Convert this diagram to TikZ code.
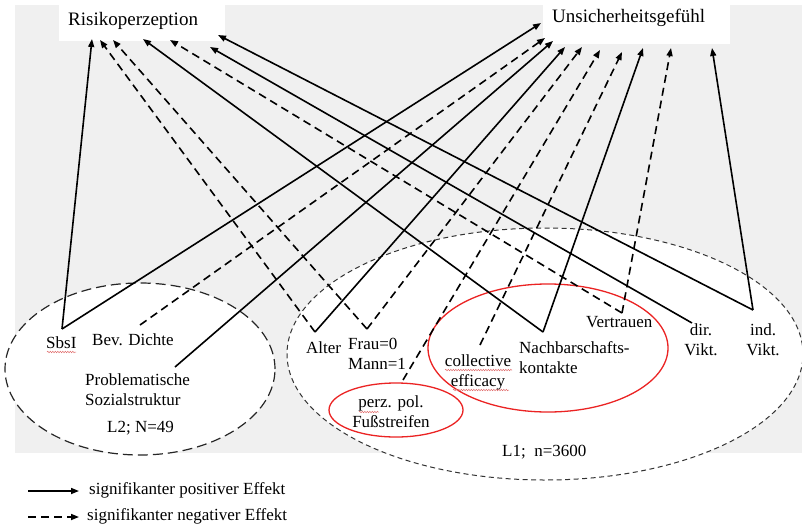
\documentclass[tikz,border=0pt]{standalone}
\usepackage{fontspec}
\setmainfont{Liberation Serif}
\usetikzlibrary{arrows.meta,shapes.geometric,decorations.pathmorphing}
\definecolor{bggray}{RGB}{240,240,240}
\definecolor{redline}{RGB}{235,35,35}
\definecolor{squigred}{RGB}{225,110,110}
\newcommand{\lblfont}{\fontsize{17}{20}\selectfont}
\newcommand{\ttlfont}{\fontsize{19}{22}\selectfont}
\begin{document}
\begin{tikzpicture}[x=1pt,y=-1pt,
  lbl/.style={font=\lblfont, inner sep=0pt, text=black},
  ttl/.style={font=\ttlfont, inner sep=0pt, text=black},
  titlebox/.style={fill=white, draw=none, inner sep=0pt, anchor=north west},
  posarrow/.style={line width=1.6pt, black, -{Triangle[length=8pt,width=6pt]}},
  negarrow/.style={posarrow, dash pattern=on 8pt off 5pt},
  lvltwo/.style={ellipse, draw=black!85, fill=white, line width=1.2pt, dash pattern=on 10pt off 5pt, inner sep=0pt},
  lvlone/.style={ellipse, draw=black!80, fill=white, line width=1pt, dash pattern=on 5pt off 3.5pt, inner sep=0pt},
  redell/.style={ellipse, draw=redline, line width=1.3pt, inner sep=0pt},
  squig/.style={draw=squigred, line width=0.5pt, decorate, decoration={snake, amplitude=0.7pt, segment length=2.5pt}}
]
\useasboundingbox (0,0) rectangle (802,527);
\fill[bggray] (15,5) rectangle (802,453);

% title boxes
\node[titlebox, minimum width=166pt, minimum height=36pt] (riskbox) at (59,5) {};
\node[titlebox, minimum width=187pt, minimum height=39pt] (unsbox) at (543,5) {};
\node[ttl, anchor=base west] (risk) at (68,26) {Risikoperzeption};
\node[ttl, anchor=base west] (uns) at (552,23) {Unsicherheitsgefühl};

% level ellipses
\node[lvltwo, minimum width=270pt, minimum height=172pt] (l2) at (140,369) {};
\node[lvlone, minimum width=516pt, minimum height=252pt] (l1) at (545,354) {};
\node[redell, minimum width=240pt, minimum height=128pt] (nbred) at (548,348) {};
\node[redell, minimum width=134pt, minimum height=54pt] (perzred) at (396,410) {};

% labels (multi-line nodes: base = last line)
\node[lbl, anchor=base west] (sbs) at (46,348) {SbsI};
\node[lbl, anchor=base west] (bev) at (92,345) {Bev. Dichte};
\node[lbl, anchor=base west, align=left] (prob) at (85,405) {Problematische\\Sozialstruktur};
\node[lbl, anchor=base west] (l2lab) at (107,432) {L2; N=49};
\node[lbl, anchor=base west] (alt) at (306,353) {Alter};
\node[lbl, anchor=base west, align=left] (frau) at (348,369) {Frau=0\\Mann=1};
\node[lbl, anchor=base, align=center] (perz) at (391,427) {perz. pol.\\Fußstreifen};
\node[lbl, anchor=base, align=center] (coll) at (478,386) {collective\\efficacy};
\node[lbl, anchor=base west, align=left] (nach) at (519,373) {Nachbarschafts-\\kontakte};
\node[lbl, anchor=base west] (vert) at (586,327) {Vertrauen};
\node[lbl, anchor=base, align=center] (dir) at (701,355) {dir.\\Vikt.};
\node[lbl, anchor=base, align=center] (ind) at (763,355) {ind.\\Vikt.};
\node[lbl, anchor=base west] (l1lab) at (502,456) {L1;~~n=3600};

% spell-check squiggles
\draw[squig] (47,352) -- (76,352);
\draw[squig] (359,412) -- (379,412);
\draw[squig] (445,370) -- (512,370);
\draw[squig] (453,390) -- (509,390);

% source points
\coordinate (pSbs) at (62,329);
\coordinate (pBev) at (140,325);
\coordinate (pProb) at (175,367);
\coordinate (pAlt) at (315,332);
\coordinate (pFrau) at (367,329);
\coordinate (pPerz) at (403,380);
\coordinate (pColl) at (480,345);
\coordinate (pNach) at (543,332);
\coordinate (pVert) at (622,313);
\coordinate (pDir) at (692,323);
\coordinate (pInd) at (753,310);

% targets Risikoperzeption
\coordinate (r1) at (92,39);
\coordinate (r2) at (100,40);
\coordinate (r3) at (113,40);
\coordinate (r4) at (143,39);
\coordinate (r5) at (170,40);
\coordinate (r6) at (210,47);
\coordinate (r7) at (218,35);

% targets Unsicherheitsgefuehl
\coordinate (u1) at (541,23);
\coordinate (u2) at (545,38);
\coordinate (u3) at (553,41);
\coordinate (u4) at (565,47);
\coordinate (u5) at (582,47);
\coordinate (u6) at (600,50);
\coordinate (u7) at (622,52);
\coordinate (u8) at (643,48);
\coordinate (u9) at (671,48);
\coordinate (u10) at (712,48);

% arrows to Risikoperzeption
\draw[posarrow] (pSbs) -- (r1);
\draw[negarrow] (pAlt) -- (r2);
\draw[negarrow] (pFrau) -- (r3);
\draw[posarrow] (pNach) -- (r4);
\draw[negarrow] (pVert) -- (r5);
\draw[posarrow] (pDir) -- (r6);
\draw[posarrow] (pInd) -- (r7);

% arrows to Unsicherheitsgefuehl
\draw[posarrow] (pSbs) -- (u1);
\draw[negarrow] (pBev) -- (u2);
\draw[posarrow] (pProb) -- (u3);
\draw[posarrow] (pAlt) -- (u4);
\draw[negarrow] (pFrau) -- (u5);
\draw[negarrow] (pPerz) -- (u6);
\draw[negarrow] (pColl) -- (u7);
\draw[posarrow] (pNach) -- (u8);
\draw[negarrow] (pVert) -- (u9);
\draw[posarrow] (pInd) -- (u10);

% legend
\coordinate (legA1) at (28,491);
\coordinate (legA2) at (79,491);
\coordinate (legB1) at (28,517);
\coordinate (legB2) at (79,517);
\draw[posarrow] (legA1) -- (legA2);
\draw[negarrow] (legB1) -- (legB2);
\node[lbl, anchor=base west] (legpos) at (89,494) {signifikanter positiver Effekt};
\node[lbl, anchor=base west] (legneg) at (87,520) {signifikanter negativer Effekt};
\end{tikzpicture}
\end{document}
